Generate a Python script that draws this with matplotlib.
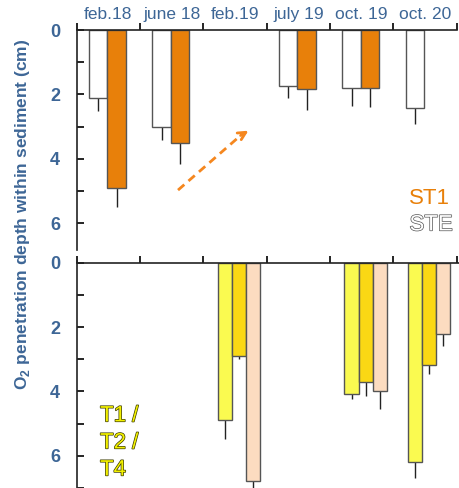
import numpy as np
import matplotlib
matplotlib.use('Agg')
import matplotlib.pyplot as plt
import matplotlib.patheffects as pe
from matplotlib.ticker import MultipleLocator, FixedLocator, NullFormatter

plt.rcParams['font.family'] = ['Liberation Sans', 'DejaVu Sans']
plt.rcParams['mathtext.fontset'] = 'custom'
plt.rcParams['mathtext.rm'] = 'Liberation Sans'
plt.rcParams['mathtext.bf'] = 'Liberation Sans:bold'

# campagnes
dates = ['feb.18', 'june 18', 'feb.19', 'july 19', 'oct. 19', 'oct. 20']

# panneau du haut : STE (blanc) et ST1 (orange)
ste = [2.12, 3.01, np.nan, 1.73, 1.81, 2.41]
ste_err = [0.40, 0.41, np.nan, 0.37, 0.54, 0.51]
st1 = [4.92, 3.52, np.nan, 1.82, 1.81, np.nan]
st1_err = [0.57, 0.65, np.nan, 0.66, 0.58, np.nan]

# panneau du bas : T1, T2, T4
t1 = [np.nan, np.nan, 4.89, np.nan, 4.09, 6.19]
t1_err = [np.nan, np.nan, 0.59, np.nan, 0.15, 0.51]
t2 = [np.nan, np.nan, 2.89, np.nan, 3.70, 3.19]
t2_err = [np.nan, np.nan, 0.11, np.nan, 0.44, 0.27]
t4 = [np.nan, np.nan, 6.79, np.nan, 3.99, 2.20]
t4_err = [np.nan, np.nan, 0.40, np.nan, 0.57, 0.39]

blue = '#3D6696'
edge = '#555555'
orange = '#E8800A'

fig = plt.figure(figsize=(4.6, 4.88), dpi=100)
ax1 = fig.add_axes([0.1667, 0.4877, 0.8261, 0.4508])
ax2 = fig.add_axes([0.1667, 0.0, 0.8333, 0.4617])

x = np.arange(len(dates))


def barres(ax, vals, errs, off, w, color):
    vals = np.array(vals, dtype=float)
    errs = np.array(errs, dtype=float)
    ok = ~np.isnan(vals)
    ax.bar(x[ok] + off, vals[ok], width=w, color=color, edgecolor=edge,
           linewidth=1.0, zorder=2)
    ax.errorbar(x[ok] + off, vals[ok], yerr=[np.zeros(ok.sum()), errs[ok]],
                fmt='none', ecolor='#222222', elinewidth=1.0, capsize=0, zorder=1)


barres(ax1, ste, ste_err, 0.34, 0.29, 'white')
barres(ax1, st1, st1_err, 0.63, 0.29, orange)

barres(ax2, t1, t1_err, 0.34, 0.225, '#FAFA50')
barres(ax2, t2, t2_err, 0.565, 0.225, '#FAD814')
barres(ax2, t4, t4_err, 0.79, 0.225, '#FCDCC0')

for ax, xmax, ymax in [(ax1, 6, 6.83), (ax2, 6.053, 7.0)]:
    ax.set_xlim(0, xmax)
    ax.set_ylim(ymax, 0)
    ax.spines['right'].set_visible(False)
    ax.spines['bottom'].set_visible(False)
    for s in ['left', 'top']:
        ax.spines[s].set_linewidth(1.2)
        ax.spines[s].set_color('#222222')
    ax.xaxis.tick_top()
    ax.xaxis.set_major_locator(FixedLocator(np.arange(0, 7)))
    ax.xaxis.set_major_formatter(NullFormatter())
    ax.tick_params(axis='x', which='major', direction='out', length=5, width=1.2)
    ax.yaxis.set_major_locator(MultipleLocator(2))
    ax.yaxis.set_minor_locator(MultipleLocator(1))
    ax.tick_params(axis='y', which='both', direction='in', length=5, width=1.2,
                   pad=12, labelsize=13, labelcolor=blue)
    for lab in ax.get_yticklabels():
        lab.set_fontweight('bold')

# étiquettes des dates en haut
ax1.xaxis.set_minor_locator(FixedLocator(x + 0.5))
ax1.set_xticklabels(dates, minor=True)
ax1.tick_params(axis='x', which='minor', length=0, pad=6, labelsize=12.5,
                labelcolor=blue)
ax2.tick_params(axis='x', which='minor', length=0)

# flèche pointillée
ax1.plot([1.60, 2.62], [4.97, 3.22], ls='--', color='#F5871F', lw=2,
         dashes=(3, 2), zorder=3)
ax1.annotate('', xy=(2.75, 3.08), xytext=(2.55, 3.32),
             arrowprops=dict(arrowstyle='->', color='#F5871F', lw=2,
                             mutation_scale=14))

# légendes texte
ax1.text(0.982, 0.232, 'ST1', transform=ax1.transAxes, ha='right', va='center',
         fontsize=16, color=orange)
ax1.text(0.99, 0.114, 'STE', transform=ax1.transAxes, ha='right', va='center',
         fontsize=16, color='white',
         path_effects=[pe.withStroke(linewidth=1.0, foreground='#555555')])

contour = [pe.withStroke(linewidth=1.0, foreground='#3A3A00')]
for i, lab in enumerate(['T1 /', 'T2 /', 'T4']):
    ax2.text(0.061, 0.32 - i * 0.12, lab, transform=ax2.transAxes,
             ha='left', va='center', fontsize=16, color='#F2F000',
             path_effects=contour)

fig.text(0.05, 0.56, r'O$_\mathbf{2}$ penetration depth within sediment (cm)',
         rotation=90, ha='center', va='center', fontsize=12.5,
         fontweight='bold', color=blue)

fig.savefig('out.png', dpi=100)
